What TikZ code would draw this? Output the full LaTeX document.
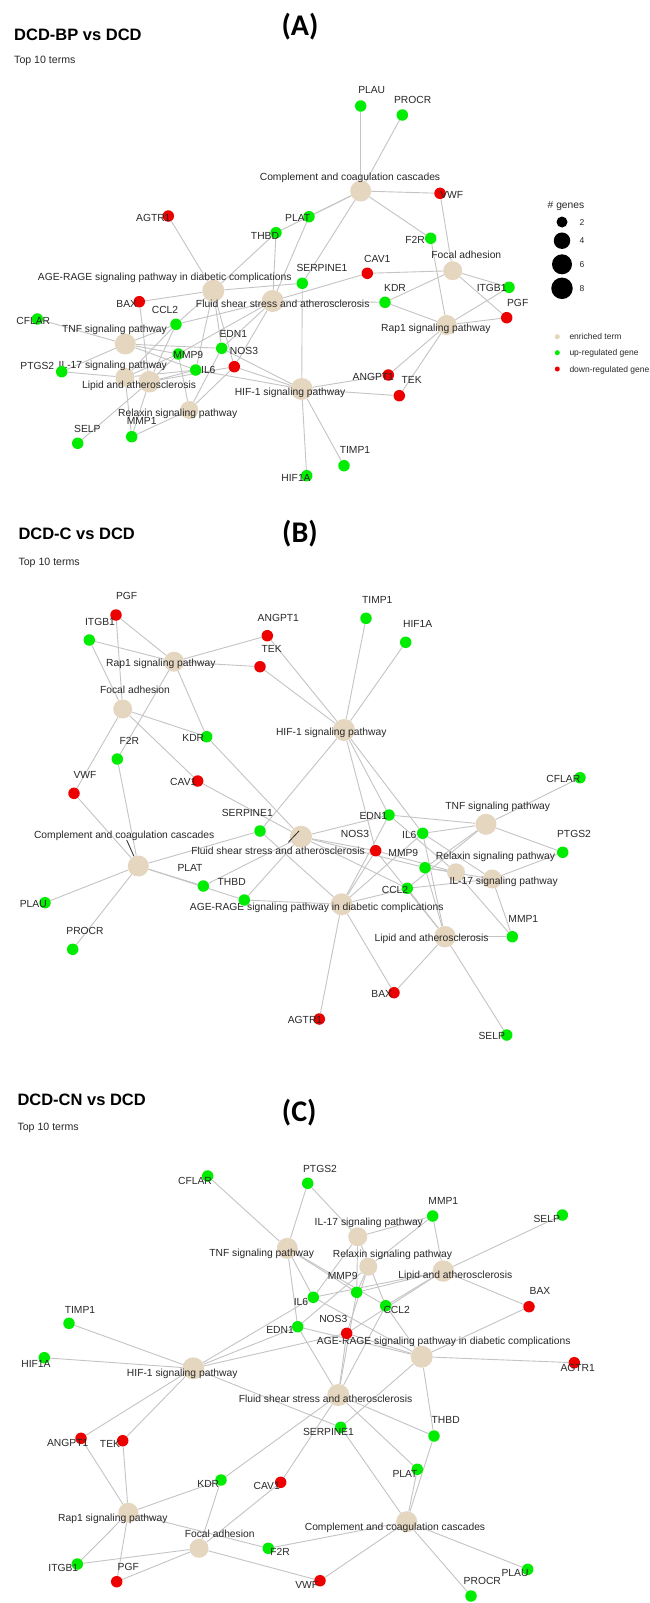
\documentclass[tikz,border=0pt]{standalone}
\usepackage{fontspec}
\setmainfont{Liberation Sans}
\newfontfamily\panelfont{Carlito}
\usetikzlibrary{backgrounds}

\definecolor{termc}{RGB}{229,214,192}
\definecolor{upc}{RGB}{0,236,0}
\definecolor{downc}{RGB}{236,0,0}
\definecolor{linkc}{RGB}{196,196,196}
\definecolor{textc}{RGB}{40,40,40}

% gene dot + its label: name, dot at, colour style, label at, text
\newcommand{\genenode}[5]{%
  \node[gene,#3] (#1) at (#2) {};
  \node[lbl] (#1l) at (#4) {#5};}
% enriched term + its label: name, at, size, label at, text
\newcommand{\termnode}[5]{%
  \node[term,minimum size=#3] (#1) at (#2) {};
  \node[lbl] (#1l) at (#4) {#5};}

% term/gene pairs, the same in all three panels
\newcommand{\termgenes}{%
CCC/PLAU,CCC/PROCR,CCC/VWF,CCC/F2R,CCC/PLAT,CCC/THBD,CCC/SERPINE1,%
FA/VWF,FA/CAV1,FA/KDR,FA/ITGB1,FA/PGF,%
RAP/F2R,RAP/KDR,RAP/ITGB1,RAP/PGF,RAP/ANGPT1,RAP/TEK,%
AGE/AGTR1,AGE/BAX,AGE/CCL2,AGE/EDN1,AGE/IL6,AGE/NOS3,AGE/SERPINE1,AGE/THBD,%
FSS/THBD,FSS/PLAT,FSS/KDR,FSS/CAV1,FSS/NOS3,FSS/EDN1,FSS/CCL2,FSS/MMP9,%
TNF/CCL2,TNF/CFLAR,TNF/EDN1,TNF/IL6,TNF/MMP9,TNF/PTGS2,%
ILS/CCL2,ILS/MMP9,ILS/IL6,ILS/PTGS2,ILS/MMP1,%
LIP/BAX,LIP/CCL2,LIP/IL6,LIP/MMP9,LIP/MMP1,LIP/SELP,LIP/NOS3,%
REL/NOS3,REL/EDN1,REL/MMP9,REL/MMP1,%
HIF/TIMP1,HIF/HIF1A,HIF/ANGPT1,HIF/TEK,HIF/NOS3,HIF/EDN1,HIF/IL6,HIF/SERPINE1}

\begin{document}
\begin{tikzpicture}[x=1pt,y=-1pt,
  gene/.style={circle,inner sep=0pt,minimum size=11.5pt},
  upg/.style={fill=upc},
  downg/.style={fill=downc},
  term/.style={circle,inner sep=0pt,fill=termc},
  lbl/.style={anchor=base,yshift=-3.7pt,inner sep=0pt,text=textc,
    font=\fontsize{10.3}{12}\selectfont},
  ttl/.style={anchor=west,inner sep=0pt,font=\bfseries\fontsize{16.5}{19}\selectfont},
  sub/.style={anchor=base west,yshift=-3.8pt,inner sep=0pt,text=textc,
    font=\fontsize{10.6}{12}\selectfont},
  tag/.style={inner sep=0pt,font=\panelfont\bfseries\fontsize{30}{34}\selectfont},
  key/.style={circle,inner sep=0pt,fill=black},
  small/.style={anchor=base west,yshift=-3pt,inner sep=0pt,text=textc,
    font=\fontsize{8.5}{10}\selectfont},
  link/.style={draw=linkc,line width=0.9pt},
  seg/.style={draw=textc,line width=0.8pt}]
  \useasboundingbox (0,0) rectangle (650,1603);

  % ---------------- (A) DCD-BP vs DCD
  \node[ttl] (aTitle) at (14,35) {DCD-BP vs DCD};
  \node[sub] (aSub) at (14,60) {Top 10 terms};
  \node[tag] (aTag) at (300,27) {(A)};

  \termnode{aCCC}{360.7,191}{21pt}{350,176.7}{Complement and coagulation cascades}
  \termnode{aFA}{452.7,270.7}{19pt}{466.3,255}{Focal adhesion}
  \termnode{aRAP}{446.7,325}{20pt}{435.8,327.7}{Rap1 signaling pathway}
  \termnode{aAGE}{213.3,290.7}{22pt}{164.7,276.7}{AGE-RAGE signaling pathway in diabetic complications}
  \termnode{aFSS}{272.7,301}{22pt}{282.7,303.3}{Fluid shear stress and atherosclerosis}
  \termnode{aTNF}{125.3,344}{21pt}{114.5,328.3}{TNF signaling pathway}
  \termnode{aILS}{125,377.3}{19pt}{112.8,364.3}{IL-17 signaling pathway}
  \termnode{aLIP}{149.3,381.7}{21.5pt}{139,384.3}{Lipid and atherosclerosis}
  \termnode{aREL}{189.3,410}{18pt}{177.7,412.3}{Relaxin signaling pathway}
  \termnode{aHIF}{301.7,389}{22pt}{290,391.7}{HIF-1 signaling pathway}

  \genenode{aPLAU}{360.7,106}{upg}{371.7,90}{PLAU}
  \genenode{aPROCR}{402.3,115}{upg}{412.7,99.3}{PROCR}
  \genenode{aVWF}{440,193.3}{downg}{451.7,194.3}{VWF}
  \genenode{aF2R}{430.7,238.3}{upg}{415,239.3}{F2R}
  \genenode{aAGTR1}{168.3,216}{downg}{153.3,217.3}{AGTR1}
  \genenode{aPLAT}{309,216.7}{upg}{297.7,217.3}{PLAT}
  \genenode{aTHBD}{276,232.7}{upg}{265,235.3}{THBD}
  \genenode{aSERPINE1}{302.3,283.3}{upg}{322,268}{SERPINE1}
  \genenode{aBAX}{139.3,301.7}{downg}{126.7,303.3}{BAX}
  \genenode{aCCL2}{176,324.3}{upg}{165,309.3}{CCL2}
  \genenode{aCFLAR}{37.3,319}{upg}{33.3,321}{CFLAR}
  \genenode{aEDN1}{221.7,348.3}{upg}{233.3,333.3}{EDN1}
  \genenode{aMMP9}{178.3,354}{upg}{188.3,355}{MMP9}
  \genenode{aNOS3}{234.3,366.7}{downg}{244,351}{NOS3}
  \genenode{aPTGS2}{61.7,371.7}{upg}{37.3,366}{PTGS2}
  \genenode{aIL6}{195.7,370}{upg}{208.3,370}{IL6}
  \genenode{aMMP1}{131.7,436.7}{upg}{141.7,421}{MMP1}
  \genenode{aSELP}{77.7,443.3}{upg}{87.3,428.3}{SELP}
  \genenode{aHIF1A}{306.7,475.7}{upg}{296,477.7}{HIF1A}
  \genenode{aCAV1}{367.3,273.3}{downg}{377.3,258.3}{CAV1}
  \genenode{aKDR}{385,302.3}{upg}{395,287.7}{KDR}
  \genenode{aITGB1}{509,287.3}{upg}{491.7,287.3}{ITGB1}
  \genenode{aPGF}{506.7,317.7}{downg}{517.7,302.3}{PGF}
  \genenode{aANGPT1}{388.3,375}{downg}{373.3,376.7}{ANGPT1}
  \genenode{aTEK}{399.3,395.7}{downg}{411.7,380}{TEK}
  \genenode{aTIMP1}{344,465.7}{upg}{355,450}{TIMP1}

  % legend
  \node[lbl] (lgTitle) at (566,205) {\# genes};
  \node[key,minimum size=11pt] (lg2) at (562,222) {};
  \node[key,minimum size=16.5pt] (lg4) at (562,240.7) {};
  \node[key,minimum size=20pt] (lg6) at (562,264.3) {};
  \node[key,minimum size=21.5pt] (lg8) at (562,288.3) {};
  \node[small] (lg2l) at (579.5,222) {2};
  \node[small] (lg4l) at (579.5,240.7) {4};
  \node[small] (lg6l) at (579.5,264.3) {6};
  \node[small] (lg8l) at (579.5,288.3) {8};
  \node[key,fill=termc,minimum size=5pt] (lgTerm) at (557.3,336.7) {};
  \node[key,fill=upc,minimum size=5pt] (lgUp) at (557.3,352.7) {};
  \node[key,fill=downc,minimum size=5pt] (lgDown) at (557.3,369) {};
  \node[small] (lgTerml) at (569.3,336.7) {enriched term};
  \node[small] (lgUpl) at (569.3,352.7) {up-regulated gene};
  \node[small] (lgDownl) at (569.3,369) {down-regulated gene};

  % ---------------- (B) DCD-C vs DCD
  \node[ttl] (bTitle) at (18.3,534) {DCD-C vs DCD};
  \node[sub] (bSub) at (18.3,561.7) {Top 10 terms};
  \node[tag] (bTag) at (300,534) {(B)};

  \termnode{bRAP}{174,661.7}{20pt}{160.8,662.7}{Rap1 signaling pathway}
  \termnode{bFA}{122.7,709}{19pt}{135,690}{Focal adhesion}
  \termnode{bHIF}{344,730}{22pt}{331.3,732}{HIF-1 signaling pathway}
  \termnode{bCCC}{138.3,866}{21pt}{124.2,834.3}{Complement and coagulation cascades}
  \termnode{bFSS}{301,836.7}{22pt}{278,851}{Fluid shear stress and atherosclerosis}
  \termnode{bAGE}{341.7,904.3}{22pt}{316.7,906.7}{AGE-RAGE signaling pathway in diabetic complications}
  \termnode{bTNF}{486,824.3}{21pt}{497.7,806}{TNF signaling pathway}
  \termnode{bREL}{456,872.3}{18pt}{495.5,855.7}{Relaxin signaling pathway}
  \termnode{bILS}{492.3,879}{19pt}{503.7,881}{IL-17 signaling pathway}
  \termnode{bLIP}{445,936.7}{21.5pt}{431.5,937.3}{Lipid and atherosclerosis}

  \genenode{bPGF}{116,615}{downg}{126.7,596}{PGF}
  \genenode{bITGB1}{89.3,640}{upg}{100,621.7}{ITGB1}
  \genenode{bANGPT1}{267.3,635.7}{downg}{278.3,617.3}{ANGPT1}
  \genenode{bTEK}{260,666.7}{downg}{271.7,648.3}{TEK}
  \genenode{bKDR}{206.7,736.7}{upg}{193.3,737.7}{KDR}
  \genenode{bF2R}{117.3,759}{upg}{129.3,741}{F2R}
  \genenode{bTIMP1}{366,618.3}{upg}{377.3,599.3}{TIMP1}
  \genenode{bHIF1A}{405.7,642.3}{upg}{417.7,623.3}{HIF1A}
  \genenode{bVWF}{74,793.3}{downg}{85,775}{VWF}
  \genenode{bCAV1}{197.7,781}{downg}{183.3,781.7}{CAV1}
  \genenode{bSERPINE1}{260,831}{upg}{247.3,812.3}{SERPINE1}
  \genenode{bPLAT}{203.3,886}{upg}{190,867.7}{PLAT}
  \genenode{bTHBD}{244.3,900}{upg}{231.7,881.7}{THBD}
  \genenode{bPLAU}{45,902.7}{upg}{33.3,903.3}{PLAU}
  \genenode{bPROCR}{72.7,949.3}{upg}{85,930.7}{PROCR}
  \genenode{bAGTR1}{319.3,1019}{downg}{305,1019.3}{AGTR1}
  \genenode{bCFLAR}{580,777.7}{upg}{563.3,778.3}{CFLAR}
  \genenode{bEDN1}{389,815}{upg}{373.3,815.7}{EDN1}
  \genenode{bNOS3}{375.7,850.7}{downg}{355,833.3}{NOS3}
  \genenode{bIL6}{422.7,833.3}{upg}{409.3,834.3}{IL6}
  \genenode{bPTGS2}{562.7,852.3}{upg}{574,833.3}{PTGS2}
  \genenode{bMMP9}{425,867.7}{upg}{403.3,852.3}{MMP9}
  \genenode{bCCL2}{407.3,888.3}{upg}{395,889.3}{CCL2}
  \genenode{bMMP1}{512.3,936.7}{upg}{523.3,918.3}{MMP1}
  \genenode{bBAX}{394,992.7}{downg}{381.7,993.3}{BAX}
  \genenode{bSELP}{506.7,1035}{upg}{491.7,1035.7}{SELP}

  % label pointers
  \coordinate (bCCCs) at (126.7,840);
  \coordinate (bFSSs) at (288.3,842.3);
  \coordinate (bFSSt) at (299,831);
  \draw[seg] (bCCC) -- (bCCCs);
  \draw[seg] (bFSSs) -- (bFSSt);

  % ---------------- (C) DCD-CN vs DCD
  \node[ttl] (cTitle) at (17.3,1100) {DCD-CN vs DCD};
  \node[sub] (cSub) at (17.3,1126.7) {Top 10 terms};
  \node[tag] (cTag) at (299.2,1113) {(C)};

  \termnode{cTNF}{287.3,1248.3}{21pt}{261.7,1252.3}{TNF signaling pathway}
  \termnode{cILS}{357.7,1236.7}{19pt}{368.8,1221.7}{IL-17 signaling pathway}
  \termnode{cREL}{368.3,1266.7}{18pt}{392.5,1253.3}{Relaxin signaling pathway}
  \termnode{cLIP}{443.3,1271}{21.5pt}{455.3,1275}{Lipid and atherosclerosis}
  \termnode{cHIF}{193.3,1368.3}{22pt}{182.2,1372.7}{HIF-1 signaling pathway}
  \termnode{cFSS}{338.3,1395}{22pt}{325.5,1399}{Fluid shear stress and atherosclerosis}
  \termnode{cAGE}{421.7,1356.7}{22pt}{443.8,1340.7}{AGE-RAGE signaling pathway in diabetic complications}
  \termnode{cRAP}{128.3,1512.7}{20pt}{112.8,1517.3}{Rap1 signaling pathway}
  \termnode{cCCC}{406.7,1521.7}{21pt}{395,1526.7}{Complement and coagulation cascades}
  \termnode{cFA}{199,1548.3}{19pt}{219.7,1533.3}{Focal adhesion}

  \genenode{cCFLAR}{207.7,1176}{upg}{195,1180.7}{CFLAR}
  \genenode{cPTGS2}{307.7,1183.3}{upg}{320,1168.3}{PTGS2}
  \genenode{cIL6}{313.3,1297.3}{upg}{301,1301.7}{IL6}
  \genenode{cTIMP1}{69,1323.3}{upg}{80,1309.3}{TIMP1}
  \genenode{cMMP1}{432.7,1216}{upg}{443.3,1200.7}{MMP1}
  \genenode{cSELP}{562.3,1215}{upg}{546.7,1218.3}{SELP}
  \genenode{cMMP9}{356.7,1292.3}{upg}{342.7,1276}{MMP9}
  \genenode{cCCL2}{385.7,1305.7}{upg}{396.7,1309.3}{CCL2}
  \genenode{cBAX}{529,1306.7}{downg}{540,1290.7}{BAX}
  \genenode{cNOS3}{346.7,1333.3}{downg}{333.3,1319}{NOS3}
  \genenode{cEDN1}{297.7,1326.7}{upg}{280,1330}{EDN1}
  \genenode{cHIF1A}{44.3,1357.7}{upg}{36,1363.3}{HIF1A}
  \genenode{cAGTR1}{574.3,1362.7}{downg}{577.7,1367.3}{AGTR1}
  \genenode{cSERPINE1}{340.7,1427.3}{upg}{328.5,1431.7}{SERPINE1}
  \genenode{cTHBD}{434,1436}{upg}{445.7,1419.3}{THBD}
  \genenode{cANGPT1}{81,1438.3}{downg}{67.7,1442.7}{ANGPT1}
  \genenode{cTEK}{122.7,1440.7}{downg}{110,1444}{TEK}
  \genenode{cPLAT}{417.3,1469.3}{upg}{405,1473.3}{PLAT}
  \genenode{cKDR}{221,1480}{upg}{208.3,1483.3}{KDR}
  \genenode{cCAV1}{280.7,1482.3}{downg}{266.7,1485.7}{CAV1}
  \genenode{cF2R}{268.3,1548.3}{upg}{280,1551.7}{F2R}
  \genenode{cITGB1}{77.3,1564}{upg}{63.3,1567.3}{ITGB1}
  \genenode{cPGF}{116.7,1581.7}{downg}{128.3,1566.7}{PGF}
  \genenode{cVWF}{320,1580.7}{downg}{306.7,1585}{VWF}
  \genenode{cPLAU}{527.7,1569.3}{upg}{515,1572.3}{PLAU}
  \genenode{cPROCR}{471,1596}{upg}{482.3,1580.7}{PROCR}

  % connectors under everything
  \begin{scope}[on background layer]
    \fill[white] (0,0) rectangle (650,1603);
    \foreach \pf in {a,b,c}
      \foreach \tm/\gn in \termgenes
        \draw[link] (\pf\tm) -- (\pf\gn);
  \end{scope}
\end{tikzpicture}
\end{document}
